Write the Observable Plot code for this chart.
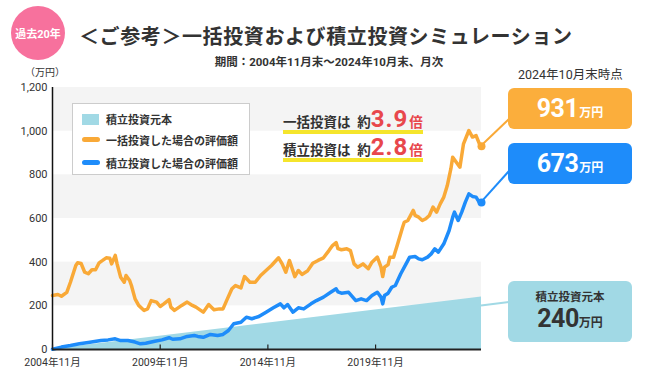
<!DOCTYPE html>
<html><head><meta charset="utf-8">
<script src="https://cdn.jsdelivr.net/npm/d3@7"></script>
<script src="https://cdn.jsdelivr.net/npm/@observablehq/plot@0.6"></script>
<style>
body{margin:0;background:#fff;font-family:Roboto,"Noto Sans CJK JP",sans-serif;color:#333;}
#wrap{position:relative;width:646px;height:382px;overflow:hidden;}
.abs{position:absolute;white-space:nowrap;}
.box{position:absolute;left:508px;width:124px;border-radius:6px;display:flex;align-items:baseline;justify-content:center;color:#fff;font-weight:700;}
.big{font-size:25px;letter-spacing:-0.5px;}
.unit{font-size:12px;margin-left:1px;}
.leg{position:absolute;left:33px;font-size:11px;font-weight:700;color:#333;}
.ann{position:absolute;left:283px;font-weight:700;color:#333;font-size:13.5px;border-bottom:4px solid #f5e52c;line-height:18px;height:20px;display:flex;align-items:baseline;}
.ann .num{color:#e8474c;font-size:24px;letter-spacing:1px;line-height:18px;}
.ann .bai{color:#e8474c;font-size:13.5px;margin-left:1px;}
</style></head><body>
<div id="wrap">
  <div id="chart"></div>
  <div class="abs" style="left:11px;top:6px;width:54px;height:54px;border-radius:50%;background:#f7719d;color:#fff;font-weight:700;font-size:11px;display:flex;align-items:center;justify-content:center;">過去20年</div>
  <div class="abs" style="left:79px;top:22px;font-size:20px;font-weight:700;letter-spacing:0.6px;color:#333;line-height:30px;">＜ご参考＞一括投資および積立投資シミュレーション</div>
  <div class="abs" style="left:0;width:658px;text-align:center;top:54px;font-size:11.5px;font-weight:700;line-height:16px;">期間：2004年11月末～2024年10月末、月次</div>
  <div class="abs" style="left:25px;top:66px;font-size:10px;line-height:14px;">（万円）</div>
  <div class="abs" style="left:518px;top:67px;font-size:12.5px;line-height:16px;">2024年10月末時点</div>
  <div class="abs" style="left:72px;top:103px;width:178px;height:72px;box-sizing:border-box;border:1.5px solid #ccc;background:#fff;">
    <div style="position:absolute;left:9px;top:10px;width:17px;height:11px;background:#a1d9e5;"></div>
    <div class="leg" style="top:7px;">積立投資元本</div>
    <div style="position:absolute;left:9px;top:33px;width:18px;height:5px;border-radius:3px;background:#f9a937;"></div>
    <div class="leg" style="top:28px;">一括投資した場合の評価額</div>
    <div style="position:absolute;left:9px;top:56px;width:18px;height:5px;border-radius:3px;background:#1e8cfa;"></div>
    <div class="leg" style="top:51px;">積立投資した場合の評価額</div>
  </div>
  <div class="ann" style="top:110px;">一括投資は&nbsp;&nbsp;約<span class="num">3.9</span><span class="bai">倍</span></div>
  <div class="ann" style="top:138px;">積立投資は&nbsp;&nbsp;約<span class="num">2.8</span><span class="bai">倍</span></div>
  <div class="box" style="top:88px;height:41px;background:#fbae3c;line-height:41px;"><span class="big" id="lumpLabel"></span><span class="unit">万円</span></div>
  <div class="box" style="top:143px;height:41px;background:#1e8cfa;line-height:41px;"><span class="big" id="accLabel"></span><span class="unit">万円</span></div>
  <div class="abs" style="left:508px;top:281px;width:124px;height:61px;border-radius:6px;background:#a1d9e5;color:#333;font-weight:700;text-align:center;">
    <div style="font-size:11.5px;margin-top:9px;line-height:15px;">積立投資元本</div>
    <div style="line-height:28px;"><span style="font-size:25px;letter-spacing:-0.5px;" id="prinLabel"></span><span style="font-size:12px;">万円</span></div>
  </div>
</div>
<script>
const lumpDates = ["2004-11","2005-02","2005-04","2005-07","2005-09","2005-12","2006-01","2006-03","2006-05","2006-07","2006-09","2006-11","2007-01","2007-03","2007-05","2007-07","2007-08","2007-10","2007-11","2008-01","2008-03","2008-04","2008-06","2008-07","2008-09","2008-11","2009-02","2009-04","2009-06","2009-09","2009-11","2010-01","2010-04","2010-05","2010-07","2010-11","2011-02","2011-05","2011-07","2011-11","2012-02","2012-05","2012-08","2012-10","2012-12","2013-03","2013-05","2013-08","2013-10","2014-01","2014-04","2014-07","2014-10","2015-01","2015-05","2015-07","2015-09","2015-11","2016-02","2016-04","2016-06","2016-09","2016-12","2017-03","2017-06","2017-09","2017-11","2018-01","2018-02","2018-04","2018-07","2018-09","2018-11","2019-01","2019-04","2019-07","2019-09","2019-12","2020-02","2020-03","2020-04","2020-06","2020-07","2020-09","2020-11","2021-02","2021-03","2021-05","2021-08","2021-09","2021-11","2022-01","2022-03","2022-05","2022-07","2022-09","2022-11","2023-01","2023-03","2023-05","2023-06","2023-08","2023-10","2023-12","2024-03","2024-05","2024-07","2024-09","2024-10"];
const lumpValues = [247,252,244,262,308,385,397,394,354,347,365,365,397,408,420,418,392,431,392,331,308,339,316,293,232,202,179,186,224,217,197,209,228,194,179,202,217,202,194,171,206,182,186,186,224,278,293,282,334,308,308,339,362,385,420,392,354,408,334,362,344,359,395,408,420,453,476,490,462,457,461,453,392,377,392,370,400,423,377,334,377,389,423,423,476,560,583,591,637,614,606,591,599,614,652,629,667,698,751,828,881,858,835,942,1003,973,980,938,931];

const accumDates = ["2004-11","2005-04","2005-09","2006-02","2006-07","2007-02","2007-06","2007-10","2008-01","2008-05","2008-09","2008-12","2009-03","2009-08","2009-12","2010-04","2010-06","2010-10","2011-02","2011-06","2011-08","2011-11","2012-03","2012-07","2012-10","2013-01","2013-04","2013-08","2013-11","2014-02","2014-06","2014-10","2015-02","2015-06","2015-08","2015-10","2016-01","2016-04","2016-07","2016-11","2017-02","2017-06","2017-10","2018-01","2018-02","2018-04","2018-08","2018-12","2019-03","2019-06","2019-09","2019-12","2020-02","2020-03","2020-04","2020-06","2020-08","2020-10","2021-01","2021-04","2021-06","2021-09","2021-11","2022-01","2022-04","2022-06","2022-08","2022-10","2023-01","2023-04","2023-06","2023-07","2023-09","2023-11","2024-01","2024-03","2024-05","2024-07","2024-09","2024-10"];
const accumValues = [1,11,18,26,32,41,44,49,41,41,34,26,29,38,44,54,47,49,60,64,60,56,69,64,69,87,118,125,148,141,151,171,191,209,191,206,171,191,186,209,224,240,262,278,264,258,262,224,232,224,247,262,240,209,247,258,285,293,347,392,423,426,415,411,423,438,461,446,484,545,606,629,591,629,675,713,701,698,670,673];

const principalDates = ["2004-11","2024-10"];
const principalValues = [1,240];

const yTicks = [0,200,400,600,800,1000,1200];
const xTickLabels = ["2004-11","2009-11","2014-11","2019-11"];
const bandLows = [200,600,1000];
const bandHighs = [400,800,1200];

const parse = d3.utcParse("%Y-%m");
const lump = lumpDates.map((d,i)=>({date:parse(d), value:lumpValues[i]}));
const accum = accumDates.map((d,i)=>({date:parse(d), value:accumValues[i]}));
const principal = principalDates.map((d,i)=>({date:parse(d), value:principalValues[i]}));
const bands = bandLows.map((lo,i)=>({lo, hi:bandHighs[i]}));
const xTicks = xTickLabels.map(parse);
const xDomain = [parse("2004-11"), parse("2024-10")];

const tickUp = {draw(ctx){ ctx.moveTo(0,0); ctx.lineTo(0,-5); }};

const ORANGE="#f9a937", BLUE="#1e8cfa", TEAL="#a1d9e5";

const plot = Plot.plot({
  width:646, height:382,
  marginLeft:52, marginRight:165, marginTop:87, marginBottom:33,
  style:{fontFamily:'Roboto,"Noto Sans CJK JP",sans-serif', fontSize:"11px", color:"#333", background:"transparent"},
  x:{type:"utc", domain:xDomain},
  y:{domain:[0,1200]},
  marks:[
    Plot.rect(bands,{y1:"lo", y2:"hi", fill:"#f4f4f4"}),
    Plot.areaY(principal,{x:"date", y:"value", fill:TEAL}),
    Plot.line(lump,{x:"date", y:"value", stroke:ORANGE, strokeWidth:3.5, strokeLinejoin:"round"}),
    Plot.line(accum,{x:"date", y:"value", stroke:BLUE, strokeWidth:3.5, strokeLinejoin:"round"}),
    Plot.ruleX([xDomain[0]],{stroke:"#111", strokeWidth:1.5}),
    Plot.ruleY([0],{stroke:"#222", strokeWidth:2}),
    Plot.dot(xTicks,{x:d=>d, y:()=>0, symbol:tickUp, stroke:"#222", strokeWidth:1.2, fill:"none"}),
    Plot.axisY({ticks:yTicks, tickSize:0, tickPadding:5, tickFormat:d3.format(","), label:null, fontSize:11}),
    Plot.axisX({ticks:xTicks, tickSize:0, tickPadding:9, tickFormat:d=>`${d.getUTCFullYear()}年${d.getUTCMonth()+1}月`, label:null, fontSize:10.5}),
    Plot.dot([lump[lump.length-1]],{x:"date", y:"value", r:4, fill:ORANGE}),
    Plot.dot([accum[accum.length-1]],{x:"date", y:"value", r:4, fill:BLUE})
  ]
});
document.getElementById("chart").appendChild(plot);

// connectors from the end points to the callout boxes
const xs = plot.scale("x"), ys = plot.scale("y");
const svg = d3.select(plot);
const endL = lump[lump.length-1], endA = accum[accum.length-1], endP = principal[principal.length-1];
const conns = [
  {x1:xs.apply(endL.date), y1:ys.apply(endL.value), x2:509, y2:119, c:ORANGE},
  {x1:xs.apply(endA.date), y1:ys.apply(endA.value), x2:509, y2:171, c:BLUE},
  {x1:xs.apply(endP.date), y1:ys.apply(endP.value)+9, x2:509, y2:302, c:TEAL}
];
const g = svg.append("g");
conns.forEach(k=>g.append("line").attr("x1",k.x1).attr("y1",k.y1).attr("x2",k.x2).attr("y2",k.y2).attr("stroke",k.c).attr("stroke-width",2));

document.getElementById("lumpLabel").textContent = endL.value;
document.getElementById("accLabel").textContent = endA.value;
document.getElementById("prinLabel").textContent = endP.value;
</script>
</body></html>
